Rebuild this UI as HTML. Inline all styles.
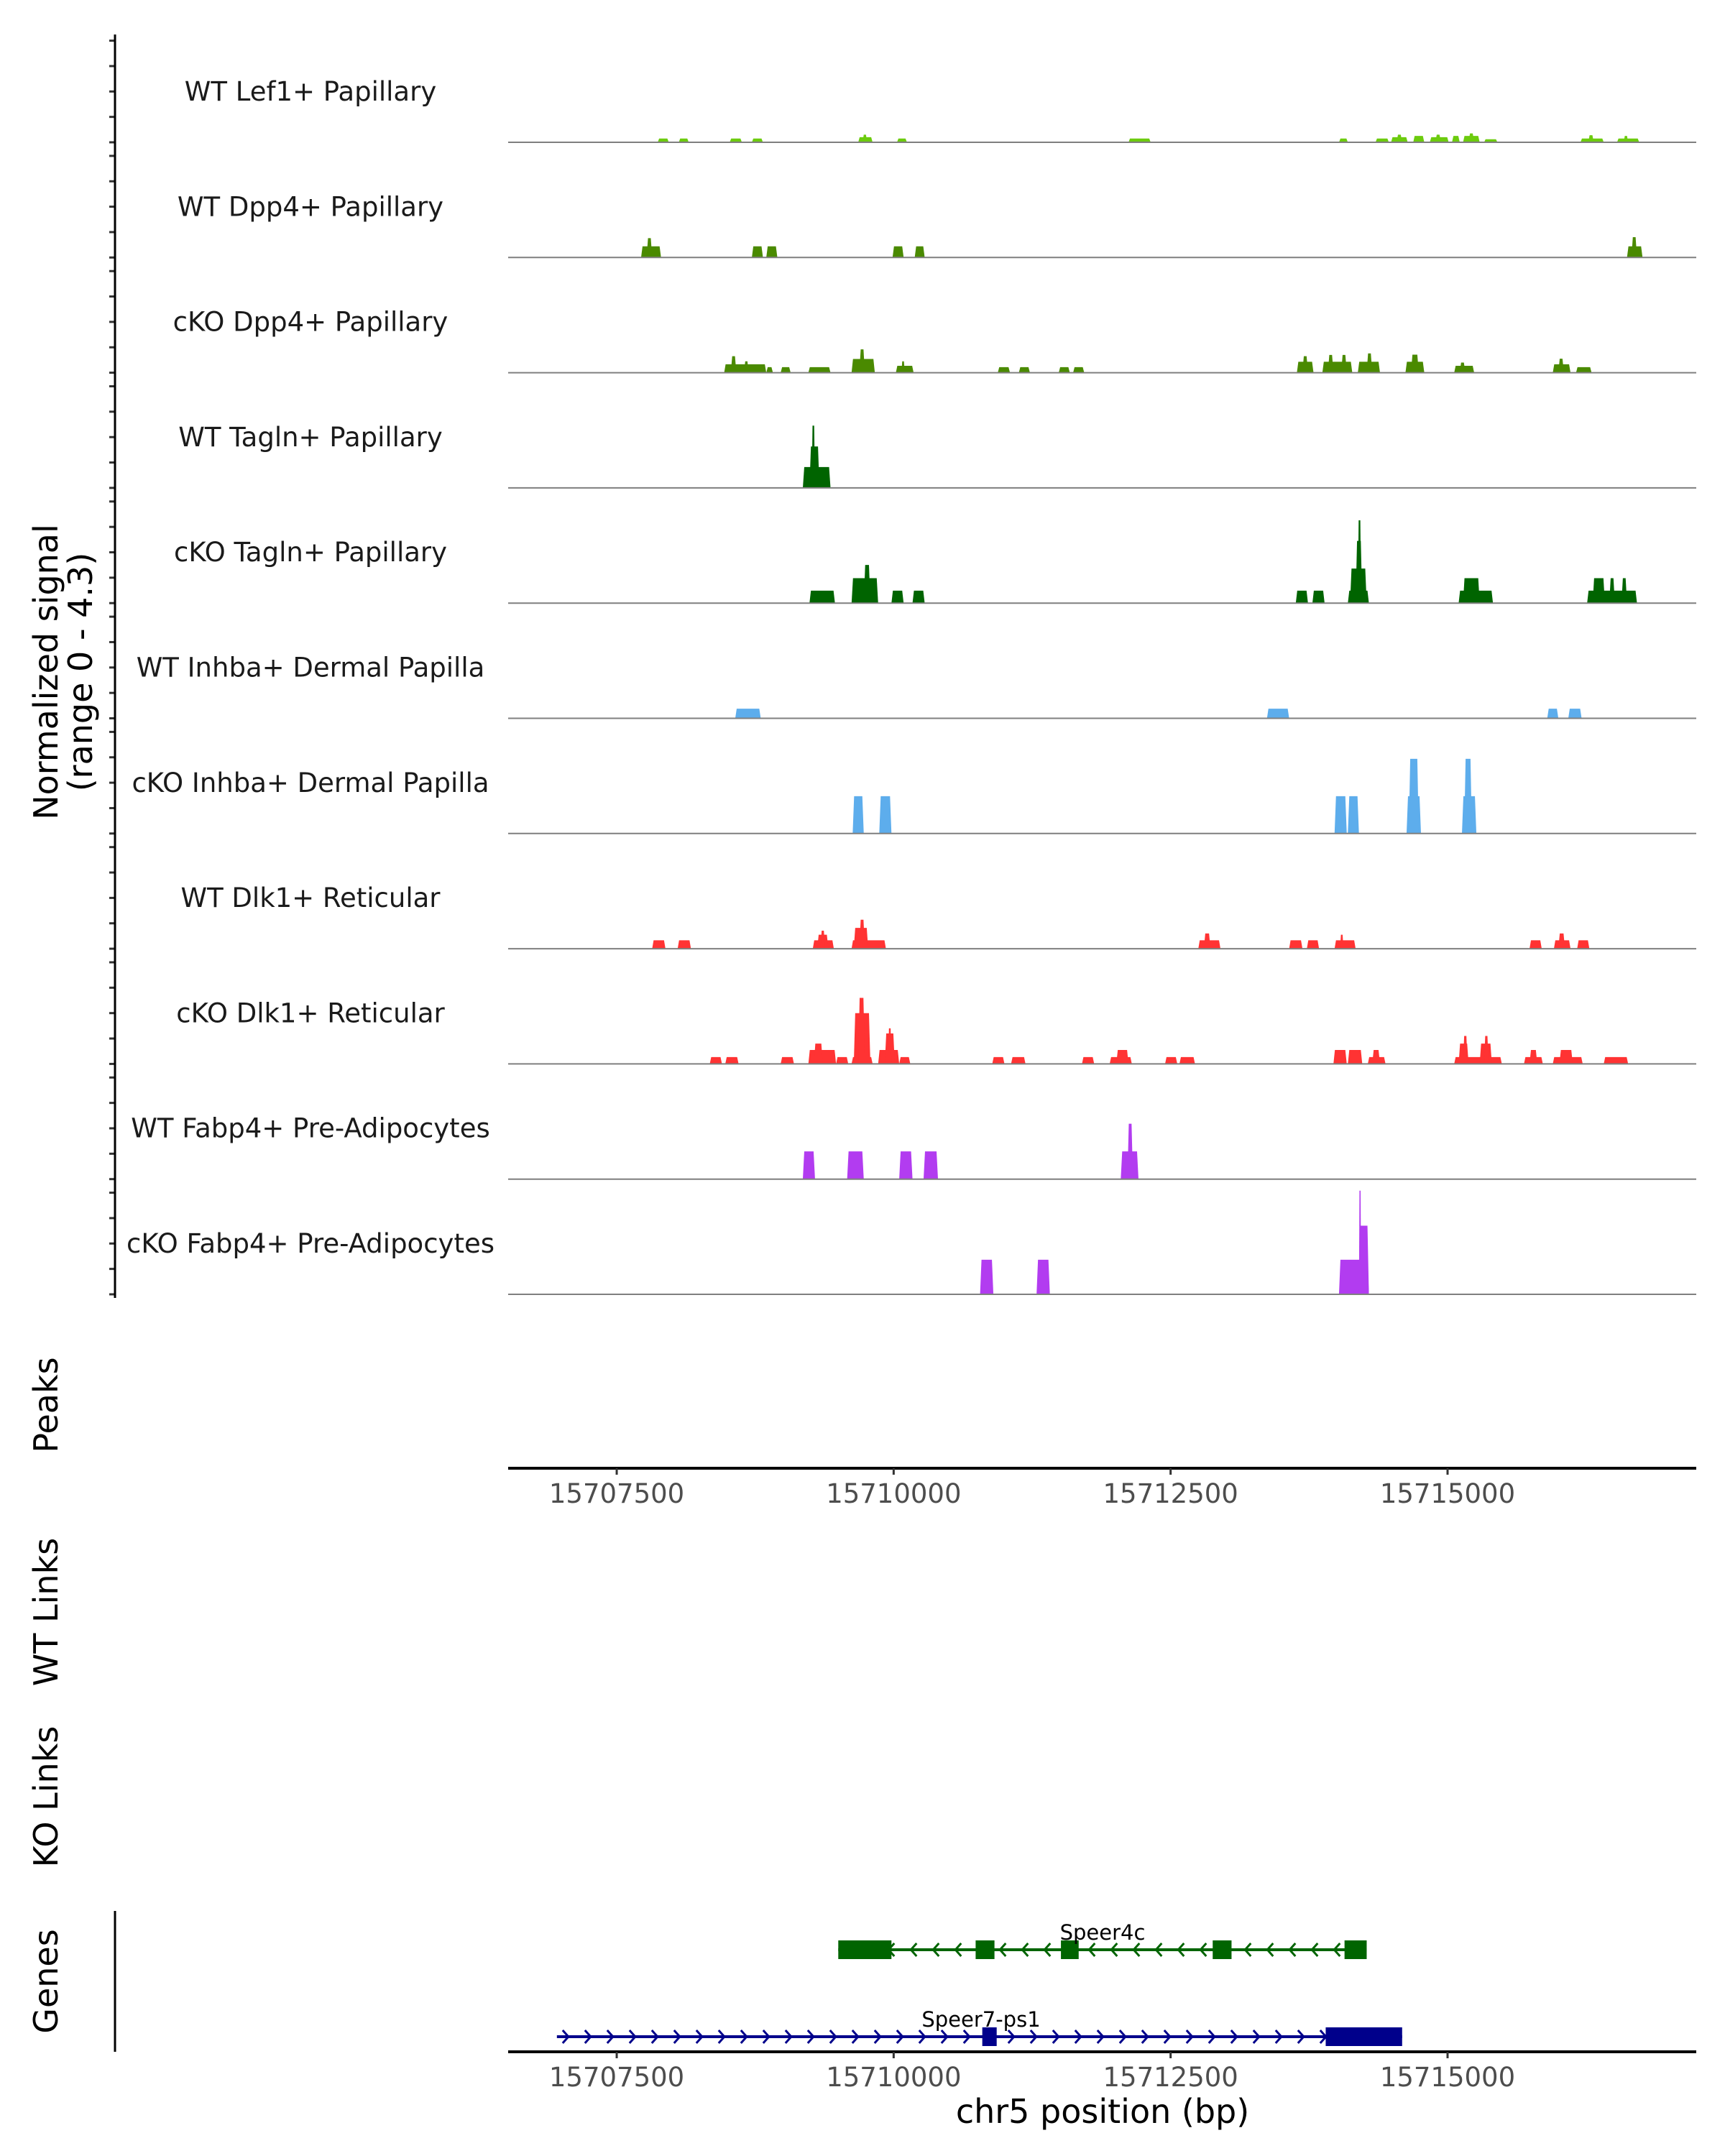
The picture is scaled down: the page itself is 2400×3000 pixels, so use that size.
<!DOCTYPE html>
<html><head><meta charset="utf-8">
<style>
html,body{margin:0;padding:0;background:#fff;}
svg{display:block;font-family:"DejaVu Sans","Liberation Sans",sans-serif;}
</style></head>
<body>
<svg id="chart" width="2400" height="3000" viewBox="0 0 2400 3000" xmlns="http://www.w3.org/2000/svg">
<rect width="2400" height="3000" fill="#fff"/>
<g id="tracks"></g>
<g id="genes"></g>
<g id="axes"></g>
<text transform="translate(80,935) rotate(-90)" text-anchor="middle" font-size="46">Normalized signal</text>
<text transform="translate(128,935) rotate(-90)" text-anchor="middle" font-size="46">(range 0 - 4.3)</text>
<text transform="translate(80,1955) rotate(-90)" text-anchor="middle" font-size="46">Peaks</text>
<text transform="translate(80,2243) rotate(-90)" text-anchor="middle" font-size="46">WT Links</text>
<text transform="translate(80,2500) rotate(-90)" text-anchor="middle" font-size="46">KO Links</text>
<text transform="translate(80,2757) rotate(-90)" text-anchor="middle" font-size="46">Genes</text>
<text x="1534" y="2954" text-anchor="middle" font-size="46">chr5 position (bp)</text>
</svg>
<script>
const trackNames = ["WT Lef1+ Papillary","WT Dpp4+ Papillary","cKO Dpp4+ Papillary","WT Tagln+ Papillary","cKO Tagln+ Papillary","WT Inhba+ Dermal Papilla","cKO Inhba+ Dermal Papilla","WT Dlk1+ Reticular","cKO Dlk1+ Reticular","WT Fabp4+ Pre-Adipocytes","cKO Fabp4+ Pre-Adipocytes"];
const trackColors = ["#6CCB0E","#4A8A00","#4A8A00","#006400","#006400","#5DADEC","#5DADEC","#FF3333","#FF3333","#B23CF0","#B23CF0"];
const xTicks = [15707500,15710000,15712500,15715000];
const xDomain = [15706520,15717245];
const yMax = 4.3;
// segments: [start, end, value]
const lef1WT = [[15707870,15707970,0.15],[15708060,15708150,0.15],[15708520,15708630,0.15],[15708720,15708820,0.15],[15709680,15709810,0.2],[15709720,15709760,0.3],[15710030,15710120,0.15],[15712120,15712320,0.15],[15714020,15714100,0.15],[15714350,15714470,0.15],[15714490,15714640,0.2],[15714540,15714590,0.3],[15714690,15714790,0.25],[15714840,15715010,0.2],[15714890,15714940,0.3],[15715040,15715110,0.25],[15715140,15715290,0.25],[15715190,15715240,0.35],[15715330,15715450,0.12],[15716200,15716410,0.15],[15716270,15716320,0.28],[15716530,15716730,0.15],[15716590,15716630,0.25]];
const dpp4WT = [[15707720,15707900,0.44],[15707770,15707820,0.76],[15708720,15708820,0.44],[15708850,15708950,0.44],[15709990,15710090,0.44],[15710190,15710280,0.44],[15716620,15716760,0.44],[15716660,15716710,0.8]];
const dpp4KO = [[15708470,15708850,0.33],[15708530,15708580,0.65],[15708650,15708690,0.45],[15708850,15708910,0.22],[15708980,15709070,0.22],[15709230,15709430,0.22],[15709620,15709830,0.54],[15709690,15709740,0.92],[15710020,15710180,0.27],[15710070,15710100,0.45],[15710940,15711050,0.22],[15711130,15711230,0.22],[15711490,15711590,0.22],[15711620,15711720,0.22],[15713640,15713790,0.43],[15713690,15713740,0.65],[15713870,15714140,0.43],[15713920,15713970,0.7],[15714040,15714090,0.7],[15714190,15714390,0.43],[15714270,15714320,0.76],[15714620,15714790,0.43],[15714670,15714740,0.71],[15715060,15715240,0.27],[15715110,15715160,0.4],[15715950,15716110,0.33],[15716000,15716050,0.55],[15716160,15716300,0.22]];
const taglnWT = [[15709180,15709430,0.82],[15709240,15709330,1.63],[15709260,15709290,2.45]];
const taglnKO = [[15709240,15709470,0.49],[15709620,15709860,0.98],[15709730,15709790,1.5],[15709980,15710090,0.49],[15710170,15710280,0.49],[15713630,15713740,0.49],[15713780,15713890,0.49],[15714100,15714290,0.49],[15714120,15714270,1.36],[15714170,15714230,2.45],[15714190,15714220,3.26],[15715100,15715410,0.49],[15715140,15715290,0.98],[15716260,15716710,0.49],[15716310,15716420,0.98],[15716460,15716510,0.98],[15716570,15716620,0.98]];
const inhbaWT = [[15708570,15708800,0.38],[15713370,15713570,0.38],[15715900,15716000,0.38],[15716090,15716210,0.38]];
const inhbaKO = [[15709630,15709730,1.47],[15709870,15709980,1.47],[15713980,15714090,1.47],[15714100,15714200,1.47],[15714630,15714760,1.47],[15714650,15714740,2.94],[15715130,15715260,1.47],[15715150,15715220,2.94]];
const dlk1WT = [[15707820,15707940,0.33],[15708050,15708170,0.33],[15709270,15709460,0.33],[15709310,15709410,0.55],[15709340,15709380,0.71],[15709620,15709930,0.33],[15709640,15709770,0.82],[15709690,15709740,1.14],[15712750,15712950,0.33],[15712800,15712860,0.6],[15713570,15713690,0.33],[15713730,15713840,0.33],[15713980,15714170,0.33],[15714030,15714060,0.55],[15715740,15715850,0.33],[15715960,15716110,0.33],[15716000,15716060,0.6],[15716170,15716280,0.33]];
const dlk1KO = [[15708340,15708450,0.27],[15708480,15708600,0.27],[15708980,15709100,0.27],[15709230,15709480,0.55],[15709280,15709360,0.8],[15709480,15709590,0.27],[15709620,15709810,0.27],[15709640,15709790,2.0],[15709680,15709740,2.6],[15709860,15710050,0.55],[15709920,15710010,1.2],[15709950,15709980,1.4],[15710050,15710150,0.27],[15710890,15711000,0.27],[15711060,15711190,0.27],[15711700,15711810,0.27],[15711950,15712150,0.27],[15712010,15712120,0.55],[15712450,15712560,0.27],[15712580,15712720,0.27],[15713970,15714090,0.55],[15714100,15714230,0.55],[15714280,15714440,0.27],[15714320,15714390,0.55],[15715060,15715490,0.27],[15715100,15715190,0.8],[15715140,15715180,1.1],[15715290,15715400,0.8],[15715330,15715370,1.1],[15715690,15715860,0.27],[15715740,15715810,0.55],[15715950,15716220,0.27],[15716010,15716130,0.55],[15716410,15716630,0.27]];
const fabp4WT = [[15709180,15709290,1.09],[15709580,15709730,1.09],[15710050,15710170,1.09],[15710270,15710400,1.09],[15712050,15712210,1.09],[15712110,15712160,2.18]];
const fabp4KO = [[15710780,15710900,1.36],[15711290,15711410,1.36],[15714020,15714290,1.36],[15714200,15714290,2.7],[15714200,15714220,4.08]];
const trackData = [lef1WT,dpp4WT,dpp4KO,taglnWT,taglnKO,inhbaWT,inhbaKO,dlk1WT,dlk1KO,fabp4WT,fabp4KO];
// genes
const geneNames = ["Speer4c","Speer7-ps1"];
const geneStrands = ["-","+"];
const geneSpans = [[15709500,15714270],[15706960,15714590]];
const geneExons = [[[15709500,15709980],[15710740,15710910],[15711510,15711670],[15712880,15713050],[15714070,15714270]],[[15710800,15710930],[15713900,15714590]]];
const geneColors = ["#006400","#00008B"];

const NS="http://www.w3.org/2000/svg";
const PX0=707, PX1=2360;
const xScale = v => PX0 + (v - xDomain[0]) / (xDomain[1]-xDomain[0]) * (PX1-PX0);
const baseY0 = 198, trackStep = 160.3, yPx = 152;
const yScale = (v, base) => base - v / yMax * yPx;
function mk(tag, attrs, parent){const e=document.createElementNS(NS,tag);for(const k in attrs)e.setAttribute(k,attrs[k]);parent.appendChild(e);return e;}

const gT=document.getElementById('tracks');
const gA=document.getElementById('axes');
trackNames.forEach((name,i)=>{
  const base=baseY0+i*trackStep;
  const g=mk('g',{},gT);
  
  
  const lab=mk('text',{x:432,y:base-58,'text-anchor':'middle','font-size':37,fill:'#1a1a1a'},g);
  lab.textContent=name;
  
  
  trackData[i].forEach(s=>{
    const x0=xScale(s[0]), x1=xScale(s[1]), yt=yScale(s[2],base);
    const sl=Math.min(2,(x1-x0)/4);
    const p=mk('polygon',{points:`${x0},${base} ${x0+sl},${yt} ${x1-sl},${yt} ${x1},${base}`,fill:trackColors[i]},g);
    
    
  });
  const bl=mk('line',{x1:PX0,x2:PX1,y1:base,y2:base,stroke:'#7f7f7f','stroke-width':2},g);
  
  
  for(let t=0;t<=4;t++){
    const y=yScale(t,base);
    const tk=mk('line',{x1:152,x2:160,y1:y,y2:y,stroke:'#333','stroke-width':3},gA);
    
    
  }
});
const ya=mk('line',{x1:160,x2:160,y1:48,y2:1806,stroke:'#000','stroke-width':3},gA);


const ga=mk('line',{x1:160,x2:160,y1:2659,y2:2855,stroke:'#000','stroke-width':3},gA);


[2043,2855].forEach((ay,k)=>{
  const al=mk('line',{x1:PX0,x2:PX1,y1:ay,y2:ay,stroke:'#000','stroke-width':4},gA);
  
  
  xTicks.forEach(t=>{
    const x=xScale(t);
    const tl=mk('line',{x1:x,x2:x,y1:ay,y2:ay+9,stroke:'#333','stroke-width':3},gA);
    
    
    const tx=mk('text',{x:x,y:ay+48,'text-anchor':'middle','font-size':37,fill:'#4d4d4d'},gA);
    tx.textContent=t;
    
    
  });
});
const gG=document.getElementById('genes');
const geneY=[2713,2834];
geneNames.forEach((n,i)=>{
  const y=geneY[i], c=geneColors[i];
  const g=mk('g',{},gG);
  
  
  const xa=xScale(geneSpans[i][0]), xb=xScale(geneSpans[i][1]);
  mk('line',{x1:xa,x2:xb,y1:y,y2:y,stroke:c,'stroke-width':4},g);
  for(let x=xa+12;x<xb-8;x+=31){
    const d=geneStrands[i]=='+'?`M${x-4},${y-9} L${x+4},${y} L${x-4},${y+9}`:`M${x+4},${y-9} L${x-4},${y} L${x+4},${y+9}`;
    mk('path',{d:d,stroke:c,'stroke-width':3,fill:'none'},g);
  }
  geneExons[i].forEach(e=>{
    const r=mk('rect',{x:xScale(e[0]),y:y-13,width:xScale(e[1])-xScale(e[0]),height:26,fill:c},g);
    
    
  });
  const t=mk('text',{x:i==0?1534:1365,y:y-14,'text-anchor':'middle','font-size':29,fill:'#000'},g);
  t.textContent=n;
  
  
});
</script>
</body></html>
